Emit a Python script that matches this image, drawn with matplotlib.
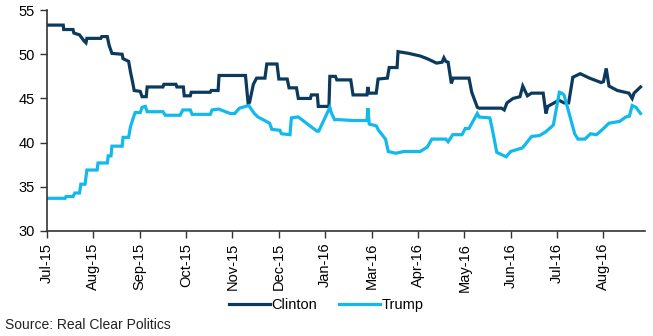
import matplotlib.pyplot as plt
import numpy as np
from matplotlib import font_manager

plt.rcParams['font.family'] = ['Liberation Sans', 'DejaVu Sans']

# positions are in "tick units" (one unit = one labelled tick)
tick_labels = ['Jul-15', 'Aug-15', 'Sep-15', 'Oct-15', 'Nov-15', 'Dec-15', 'Jan-16',
               'Mar-16', 'Apr-16', 'May-16', 'Jun-16', 'Jul-16', 'Aug-16']

clinton_x = [0.00, 0.35, 0.36, 0.56, 0.58, 0.70, 0.80, 0.84, 0.86, 1.16, 1.18, 1.30, 1.34,
             1.40, 1.62, 1.64, 1.76, 1.80, 1.84, 1.88, 2.01, 2.05, 2.14, 2.16, 2.50, 2.52,
             2.78, 2.80, 2.94, 2.96, 3.09, 3.11, 3.52, 3.54, 3.69, 3.71, 4.28, 4.34, 4.37,
             4.45, 4.52, 4.70, 4.74, 4.96, 5.00, 5.18, 5.22, 5.38, 5.42, 5.68, 5.70, 5.83,
             5.85, 6.08, 6.10, 6.22, 6.25, 6.55, 6.60, 6.90, 6.92, 6.94, 7.10, 7.14, 7.34,
             7.38, 7.55, 7.57, 7.80, 8.05, 8.20, 8.40, 8.52, 8.56, 8.60, 8.65, 8.70, 8.72,
             8.76, 9.10, 9.16, 9.28, 9.32, 9.80, 9.86, 9.92, 10.05, 10.20, 10.26, 10.36,
             10.45, 10.70, 10.76, 10.80, 11.04, 11.15, 11.25, 11.34, 11.50, 11.70, 11.95,
             12.00, 12.06, 12.12, 12.30, 12.55, 12.62, 12.66, 12.80]
clinton_y = [53.3, 53.3, 52.8, 52.8, 52.4, 52.2, 51.5, 51.3, 51.8, 51.8, 52.0, 52.0, 51.0,
             50.1, 50.0, 49.5, 49.2, 48.0, 47.0, 45.9, 45.8, 45.2, 45.2, 46.3, 46.3, 46.6,
             46.6, 46.3, 46.3, 45.3, 45.3, 45.7, 45.7, 45.9, 45.9, 47.6, 47.6, 44.3, 44.6,
             46.6, 47.3, 47.3, 48.9, 48.9, 47.2, 47.2, 46.2, 46.2, 45.0, 45.0, 45.4, 45.4,
             44.1, 44.1, 47.5, 47.5, 47.1, 47.1, 45.4, 45.4, 46.3, 45.6, 45.6, 47.2, 47.3,
             48.5, 48.5, 50.3, 50.1, 49.8, 49.5, 49.0, 49.1, 49.6, 49.2, 49.1, 47.4, 46.7,
             47.3, 47.3, 45.7, 44.0, 43.9, 43.9, 43.7, 44.5, 45.0, 45.2, 46.4, 45.3, 45.6,
             45.6, 43.3, 44.1, 44.8, 44.5, 44.5, 47.4, 47.8, 47.3, 46.8, 46.9, 48.4, 46.4,
             45.9, 45.6, 45.0, 45.6, 46.3]

trump_x = [0.00, 0.39, 0.41, 0.56, 0.60, 0.70, 0.73, 0.82, 0.86, 1.08, 1.10, 1.30, 1.32,
           1.38, 1.40, 1.62, 1.64, 1.76, 1.80, 1.86, 1.90, 2.01, 2.05, 2.12, 2.16, 2.50,
           2.55, 2.87, 2.93, 3.09, 3.13, 3.52, 3.56, 3.70, 3.95, 4.05, 4.15, 4.35, 4.47,
           4.55, 4.80, 4.85, 5.02, 5.06, 5.24, 5.27, 5.40, 5.42, 5.82, 5.86, 6.10, 6.13,
           6.20, 6.30, 6.60, 6.90, 6.92, 6.95, 7.10, 7.15, 7.30, 7.36, 7.52, 7.70, 8.05,
           8.20, 8.30, 8.60, 8.65, 8.75, 8.95, 9.02, 9.10, 9.28, 9.32, 9.55, 9.60, 9.70,
           9.90, 10.00, 10.25, 10.30, 10.45, 10.62, 10.75, 10.88, 10.92, 11.05, 11.10,
           11.15, 11.25, 11.38, 11.45, 11.60, 11.72, 11.85, 11.98, 12.12, 12.35, 12.48,
           12.56, 12.62, 12.70, 12.80]
trump_y = [33.7, 33.7, 33.9, 33.9, 34.3, 34.3, 35.3, 35.3, 36.9, 36.9, 37.7, 37.7, 38.5,
           38.5, 39.6, 39.6, 40.6, 40.6, 41.8, 42.8, 43.4, 43.4, 44.0, 44.1, 43.5, 43.5,
           43.1, 43.1, 43.7, 43.7, 43.2, 43.2, 43.7, 43.8, 43.3, 43.3, 43.9, 44.2, 43.3,
           42.9, 42.2, 41.5, 41.4, 41.0, 40.9, 42.8, 42.9, 42.9, 41.3, 41.3, 44.0, 43.4,
           42.6, 42.6, 42.5, 42.5, 43.9, 42.1, 41.9, 41.4, 40.4, 39.0, 38.8, 39.0, 39.0,
           39.5, 40.4, 40.4, 40.1, 40.9, 40.9, 41.6, 41.6, 43.3, 42.9, 42.8, 41.6, 38.9,
           38.4, 39.0, 39.4, 39.7, 40.7, 40.8, 41.2, 41.8, 42.0, 45.7, 45.6, 45.4, 43.5,
           41.0, 40.4, 40.4, 41.0, 40.9, 41.5, 42.2, 42.4, 42.9, 43.0, 44.2, 44.0, 43.3]

# condensed face for the source note if it is there
names = {f.name for f in font_manager.fontManager.ttflist}
src_font = 'Liberation Sans Narrow' if 'Liberation Sans Narrow' in names else 'Liberation Sans'

fig = plt.figure(figsize=(6.53, 3.36), dpi=100)
ax = fig.add_axes([0.072, 0.3125, 0.916, 0.6575])

ax.plot(clinton_x, clinton_y, color='#0b3a5c', lw=2.3, label='Clinton', solid_joinstyle='miter')
ax.plot(trump_x, trump_y, color='#12b9ec', lw=2.3, label='Trump', solid_joinstyle='miter')

ax.set_ylim(30, 55)
ax.set_yticks(np.arange(30, 56, 5))
ax.set_xlim(0, 12.9)
ax.set_xticks(np.arange(len(tick_labels)))
ax.set_xticklabels(tick_labels, rotation=90)
ax.tick_params(axis='both', labelsize=10.5, color='#333333', length=5, width=1, direction='out')
ax.tick_params(axis='y', pad=4)
for side in ['top', 'right']:
    ax.spines[side].set_visible(False)
for side in ['left', 'bottom']:
    ax.spines[side].set_color('#333333')
    ax.spines[side].set_linewidth(1.2)

fig.legend(loc='center', bbox_to_anchor=(0.5, 0.092), ncol=2, frameon=False,
           fontsize=10.5, handlelength=2.8, handletextpad=0.1, columnspacing=1.5)
fig.text(0.007, 0.022, 'Source: Real Clear Politics', fontsize=10, color='#222222',
         family=src_font)

fig.savefig('out.png', dpi=100)
